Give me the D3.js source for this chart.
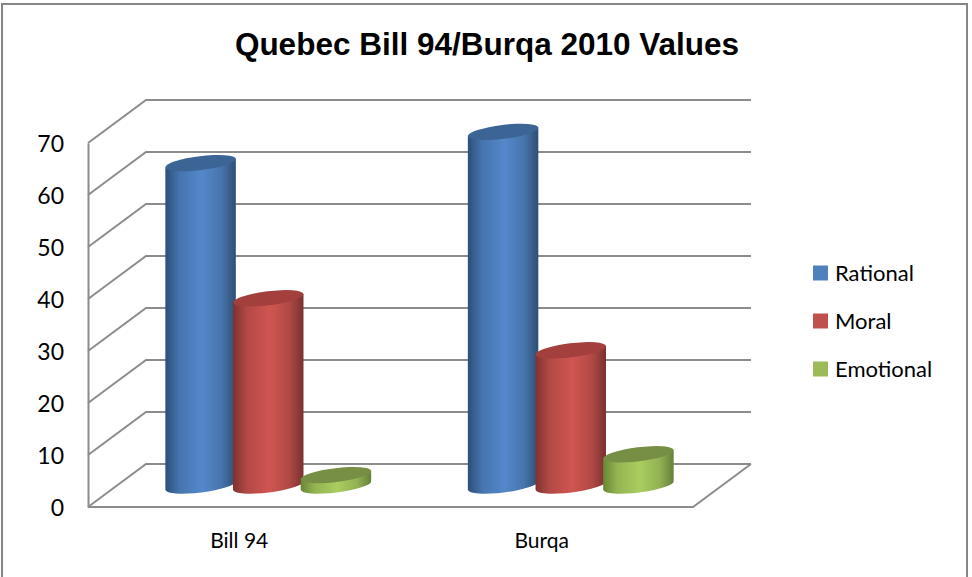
<!DOCTYPE html>
<html>
<head>
<meta charset="utf-8">
<script src="https://cdnjs.cloudflare.com/ajax/libs/d3/7.8.5/d3.min.js"></script>
<style>
	html, body { margin: 0; padding: 0; background: #fff; }
	svg { display: block; }
	.tick-label { font-family: Lato, "Open Sans", sans-serif; fill: #000; }
</style>
</head>
<body>
<div id="main_node"></div>
<script>
let categories = ["Bill 94", "Burqa"];
let seriesNames = ["Rational", "Moral", "Emotional"];
let rational = [62, 68];
let moral = [36, 26];
let emotional = [2, 6];
let yTicks = [0, 10, 20, 30, 40, 50, 60, 70];

let seriesValues = [rational, moral, emotional];
let colors = [
	{ edge: "#2d4f78", edge2: "#2f4e72", mid: "#5488cb", top: "#3c6595", flat: "#4f81bd" },
	{ edge: "#7e3230", edge2: "#773230", mid: "#d05551", top: "#a3403d", flat: "#c0504d" },
	{ edge: "#6b8636", edge2: "#65803a", mid: "#aacd60", top: "#778f45", flat: "#9bbb59" },
];

let width = 972;
let height = 577;
let depthX = 58;
let depthY = 43;
let floorLeft = 88;
let floorRight = 693;
let floorY = 507;
let topY = 143;
let radiusX = 35.5;
let radiusY = 7;
let tilt = 7;

let svg = d3
	.select("#main_node")
	.append("svg")
	.attr("width", width)
	.attr("height", height);

// chart frame
svg.append("rect")
	.attr("x", 2).attr("y", 4)
	.attr("width", 965).attr("height", 580)
	.attr("fill", "#fff")
	.attr("stroke", "#868686")
	.attr("stroke-width", 2);

svg.append("text")
	.attr("x", 487).attr("y", 55)
	.attr("text-anchor", "middle")
	.style("font-family", "'Liberation Sans', Arial, sans-serif")
	.style("font-weight", "bold")
	.style("font-size", "31.5px")
	.text("Quebec Bill 94/Burqa 2010 Values");

// y on the front edge, bars stand half way back
let yFront = d3.scaleLinear().domain([0, 70]).range([floorY, topY]);
let yBar = (v) => yFront(v) - depthY / 2;

let x0 = d3
	.scaleBand()
	.domain(categories)
	.range([floorLeft + depthX / 2, floorRight + depthX / 2]);
let x1 = d3.scaleBand().domain(d3.range(3)).range([-101.5, 101.5]);

let defs = svg.append("defs");
colors.forEach((c, i) => {
	let g = defs.append("linearGradient").attr("id", "cyl" + i);
	g.append("stop").attr("offset", "0%").attr("stop-color", c.edge);
	g.append("stop").attr("offset", "20%").attr("stop-color", d3.interpolateRgb(c.edge, c.mid)(0.65));
	g.append("stop").attr("offset", "52%").attr("stop-color", c.mid);
	g.append("stop").attr("offset", "80%").attr("stop-color", d3.interpolateRgb(c.edge2, c.mid)(0.65));
	g.append("stop").attr("offset", "100%").attr("stop-color", c.edge2);
});

// walls and floor
let gridColor = "#8c8c8c";
let grid = svg.append("g").attr("fill", "none").attr("stroke", gridColor).attr("stroke-width", 2);
yTicks.forEach((t) => {
	let y = yFront(t);
	grid.append("path").attr(
		"d",
		d3.line()([
			[floorLeft, y],
			[floorLeft + depthX, y - depthY],
			[floorRight + depthX, y - depthY],
		])
	);
});
grid.append("path").attr(
	"d",
	d3.line()([
		[floorLeft, floorY],
		[floorRight, floorY],
		[floorRight + depthX, floorY - depthY],
	])
);

let yAxis = d3.axisLeft(yFront).tickValues(yTicks).tickSize(0).tickPadding(24);
let yG = svg.append("g").attr("transform", "translate(" + floorLeft + ",0)").call(yAxis);
yG.select(".domain").attr("stroke", gridColor).attr("stroke-width", 2);
yG.selectAll("text").attr("class", "tick-label").style("font-size", "23px").attr("dy", "0.36em");

// cylinders
function cylinderPath(cx, yTop, yBase) {
	let a = (tilt * Math.PI) / 180;
	let dx = radiusX * Math.cos(a);
	let dy = radiusX * Math.sin(a);
	return (
		"M" + (cx - dx) + "," + (yTop + dy) +
		"L" + (cx - dx) + "," + (yBase + dy) +
		"A" + radiusX + "," + radiusY + " " + -tilt + " 0 0 " + (cx + dx) + "," + (yBase - dy) +
		"L" + (cx + dx) + "," + (yTop - dy) + "Z"
	);
}

categories.forEach((cat, c) => {
	seriesValues.forEach((vals, s) => {
		let cx = x0(cat) + x0.bandwidth() / 2 + x1(s) + x1.bandwidth() / 2;
		let yTop = yBar(vals[c]);
		svg.append("path")
			.attr("d", cylinderPath(cx, yTop, yBar(0)))
			.attr("fill", "url(#cyl" + s + ")");
		svg.append("ellipse")
			.attr("cx", 0).attr("cy", 0)
			.attr("rx", radiusX).attr("ry", radiusY)
			.attr("transform", "translate(" + cx + "," + yTop + ") rotate(" + -tilt + ")")
			.attr("fill", colors[s].top);
	});
});

// category labels
categories.forEach((cat) => {
	svg.append("text")
		.attr("class", "tick-label")
		.attr("x", x0(cat) + x0.bandwidth() / 2 - 29)
		.attr("y", 548)
		.attr("text-anchor", "middle")
		.style("font-size", "21px")
		.text(cat);
});

// legend
let legendY = d3.scalePoint().domain(seriesNames).range([273, 369]);
seriesNames.forEach((name, i) => {
	svg.append("rect")
		.attr("x", 813).attr("y", legendY(name) - 7.5)
		.attr("width", 15).attr("height", 15)
		.attr("fill", colors[i].flat);
	svg.append("text")
		.attr("class", "tick-label")
		.attr("x", 835).attr("y", legendY(name) + 8)
		.style("font-size", "22px")
		.text(name);
});
</script>
</body>
</html>
